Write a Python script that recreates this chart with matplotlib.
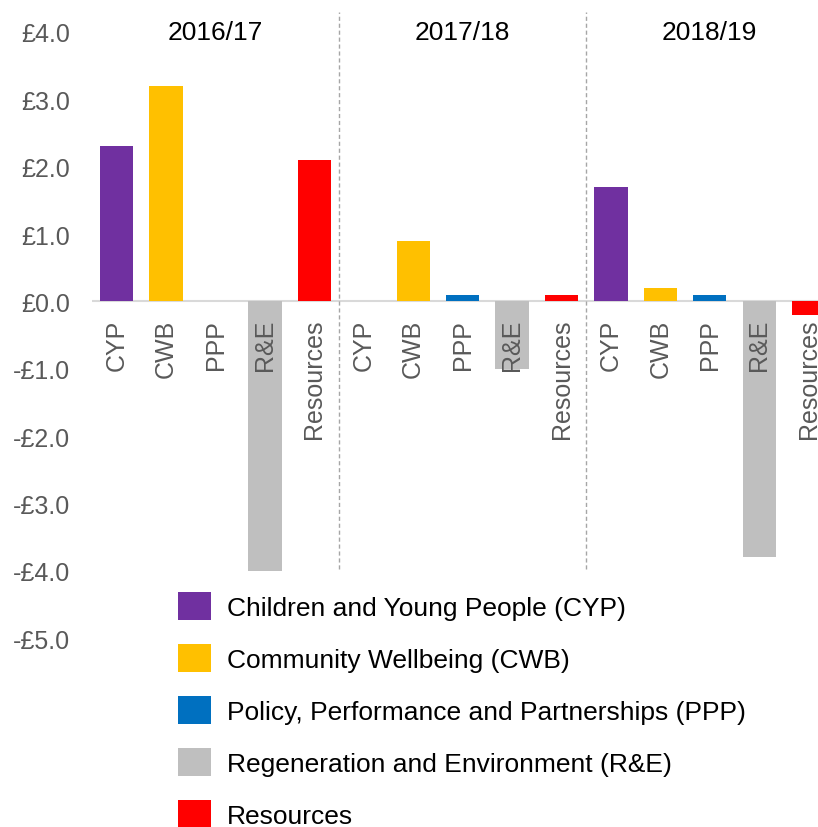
import matplotlib
matplotlib.use("Agg")
import matplotlib.pyplot as plt
from matplotlib.ticker import FuncFormatter

plt.rcParams['font.family'] = ['Liberation Sans', 'DejaVu Sans']

years = ['2016/17', '2017/18', '2018/19']
short_names = ['CYP', 'CWB', 'PPP', 'R&E', 'Resources']
long_names = ['Children and Young People (CYP)', 'Community Wellbeing (CWB)',
              'Policy, Performance and Partnerships (PPP)',
              'Regeneration and Environment (R&E)', 'Resources']
colors = ['#7030A0', '#FFC000', '#0070C0', '#BFBFBF', '#FF0000']

# values in £m, one list per directorate (2016/17, 2017/18, 2018/19)
cyp = [2.3, 0.0, 1.7]
cwb = [3.2, 0.9, 0.2]
ppp = [0.0, 0.1, 0.1]
regen = [-4.0, -1.0, -3.8]
resources = [2.1, 0.1, -0.2]
series = [cyp, cwb, ppp, regen, resources]

grey = '#595959'

fig = plt.figure(figsize=(8.18, 8.28), dpi=100)
ax = fig.add_axes([92 / 818, 1 - 646 / 828, 726 / 818, (646 - 12.7) / 828])

n = len(short_names)
for d, vals in enumerate(series):
    xs = [y * n + d for y in range(len(years))]
    ax.bar(xs, vals, width=0.675, color=colors[d], label=long_names[d], zorder=2)
    for x in xs:
        ax.text(x, -0.26, short_names[d], rotation=90, ha='center', va='top',
                fontsize=18, color=grey, zorder=3)

ax.axhline(0, color='#d9d9d9', lw=1.5, zorder=1)
ax.vlines([n - 0.5, 2 * n - 0.5], -3.97, 4.3, colors='#a6a6a6',
          linestyles=(0, (3, 2)), lw=1)

for i, yr in enumerate(years):
    ax.text(i * n + 2, 4.0, yr, ha='center', va='center', fontsize=19, color='black')

ax.set_xlim(-0.5, 14.19)
ax.set_ylim(-5.1, 4.3)
ax.set_yticks(range(-5, 5))
ax.yaxis.set_major_formatter(FuncFormatter(
    lambda v, p: ('-£%.1f' % abs(v)) if v < 0 else '£%.1f' % v))
ax.tick_params(axis='y', length=0, pad=16, labelsize=18, labelcolor=grey)
ax.set_xticks([])
for s in ax.spines.values():
    s.set_visible(False)

ax.legend(loc='upper left', bbox_to_anchor=(178 / 818, 1 - 593 / 828),
          bbox_transform=fig.transFigure, frameon=False, fontsize=19,
          handlelength=1.25, handleheight=1.25, handletextpad=0.6,
          labelspacing=0.91, borderpad=0, borderaxespad=0)

plt.savefig('out.png', dpi=100)
